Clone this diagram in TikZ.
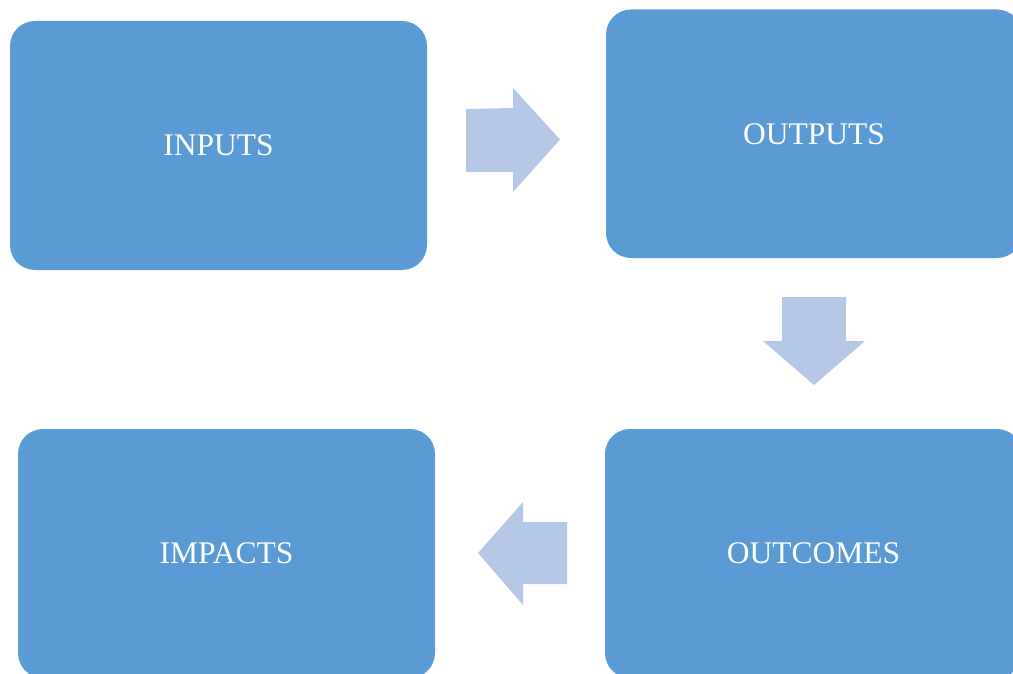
\documentclass[tikz,border=0pt]{standalone}
\usepackage{fontspec}
\setmainfont{Liberation Serif}
\definecolor{boxblue}{HTML}{5B9BD5}
\definecolor{arrowblue}{HTML}{B4C7E7}
\begin{document}
\begin{tikzpicture}[x=1pt,y=-1pt,
  stagebox/.style={rectangle, fill=boxblue, draw=none, rounded corners=25pt, inner sep=0pt,
    text=white, font=\fontsize{31.5}{38}\selectfont},
  blockarrow/.style={fill=arrowblue, draw=none}]
\useasboundingbox (0,0) rectangle (1013,674);
\clip (0,0) rectangle (1013,674);
\node[stagebox, minimum width=417pt, minimum height=249pt] (inputs) at (218.5,145.5) {INPUTS};
\node[stagebox, minimum width=416pt, minimum height=248.5pt] (outputs) at (814,133.75) {OUTPUTS};
\node[stagebox, minimum width=417pt, minimum height=249pt] (outcomes) at (813.5,553.5) {OUTCOMES};
\node[stagebox, minimum width=417pt, minimum height=249pt] (impacts) at (226.5,553.5) {IMPACTS};
\fill[blockarrow] (466,109) -- (513,108) -- (513,88) -- (560,139.5) -- (513,192) -- (513,172) -- (466,172) -- cycle;
\fill[blockarrow] (782,297) -- (846,297) -- (846,341) -- (865,341) -- (814,385) -- (763,341) -- (782,341) -- cycle;
\fill[blockarrow] (567,522) -- (523,522) -- (523,502) -- (478,553) -- (523,605) -- (523,584) -- (567,584) -- cycle;
\end{tikzpicture}
\end{document}
